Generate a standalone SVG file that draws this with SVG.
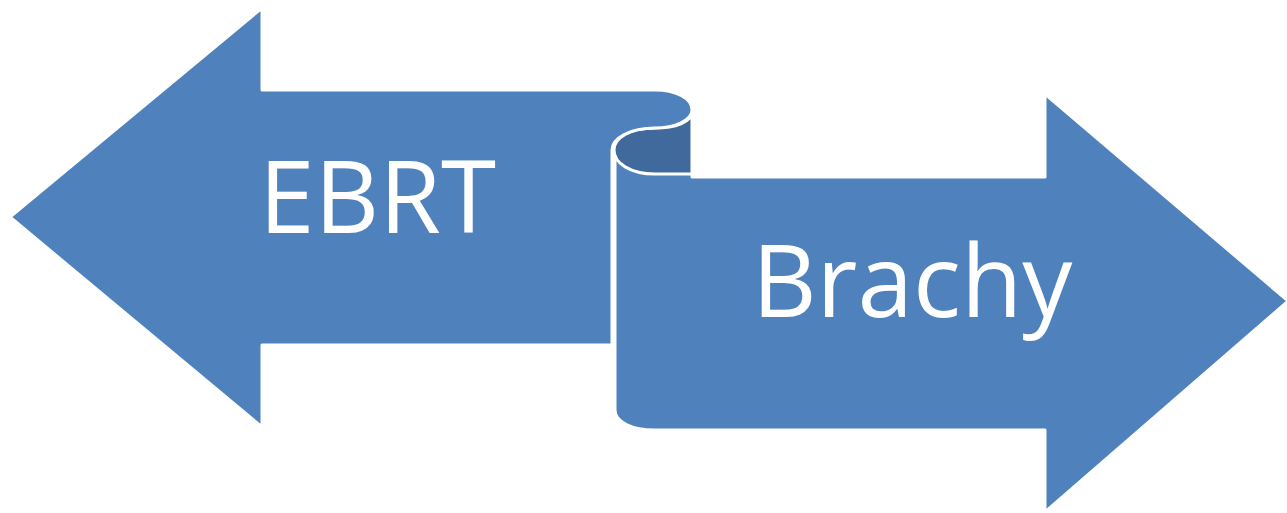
<svg xmlns="http://www.w3.org/2000/svg" width="1287" height="513" viewBox="0 0 1287 513">
<style>
.shape{fill:#4F81BD;stroke:#FFFFFF;stroke-width:3;stroke-linejoin:round}
.dark{fill:#416A9C;stroke:#FFFFFF;stroke-width:3;stroke-linejoin:round}
.label{font-family:"Open Sans","Liberation Sans",sans-serif;font-size:100px;fill:#FFFFFF}
</style>
<rect width="1287" height="513" fill="#FFFFFF"/>
<g id="brachy">
<path class="shape" d="M615,150 L615,410 C615,422 632,430 655,430 L1045,430 L1045,512 L1288,301 L1045,94 L1045,177 L692,177 L692,150 Z"/>
<path class="dark" d="M692,112 L692,174 L655,174 C630,174 614,163 614,150 C614,138 630,128 655,128 C675,128 692,122 692,112 Z"/>
<text class="label" x="752" y="317">Brachy</text>
</g>
<g id="ebrt">
<path class="shape" d="M10,217 L262,8 L262,90 L655,90 C675,90 692,98 692,110 C692,120 675,128 655,128 C630,128 612,138 612,150 L612,345 L262,345 L262,427 Z"/>
<text class="label" x="259" y="233">EBRT</text>
</g>
<g id="connectors"/>
</svg>
